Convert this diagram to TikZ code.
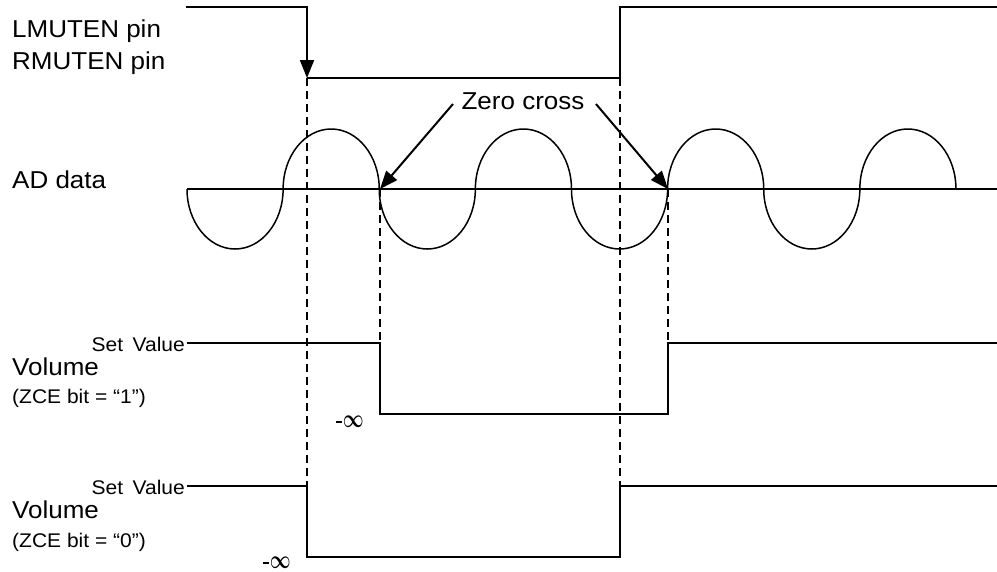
\documentclass[tikz,border=0pt]{standalone}
\usepackage{fontspec}
\setmainfont{Liberation Sans}
\usetikzlibrary{arrows.meta}
\newcommand{\vsq}[1]{\scalebox{1}[0.94]{#1}}
\newcommand{\minf}{\rule[5pt]{6pt}{2pt}\kern0.5pt\scalebox{1.05}[1.5]{\fontsize{18}{20}\selectfont$\boldsymbol{\infty}$}}
\usepackage{amsmath}
\begin{document}
\begin{tikzpicture}[x=1pt,y=-1pt,
  sig/.style={line width=2pt, line join=miter},
  wave/.style={line width=1.5pt},
  guide/.style={line width=1.8pt, dash pattern=on 8pt off 5pt},
  tip/.style={-{Triangle[length=18pt,width=14pt]}},
  lbl/.style={inner sep=0pt, font=\fontsize{26}{28}\selectfont},
  small/.style={inner sep=0pt, font=\fontsize{21}{23}\selectfont},
  tiny/.style={inner sep=0pt, font=\fontsize{19}{21}\selectfont},
]
\useasboundingbox (0,0) rectangle (997,571);
% mute pin signal
\coordinate (mS) at (186,7);
\coordinate (mF) at (307,78);
\coordinate (mR) at (620,78);
\coordinate (mE) at (997,7);
\draw[sig,tip] (mS) -| (mF);
\draw[sig] (mF) -- (mR) |- (mE);
% AD data
\coordinate (a0) at (187,189);
\coordinate (aE) at (997,189);
\draw[wave] (a0) -- (aE);
\draw[wave] (a0)
  arc[start angle=180,end angle=360,x radius=48.06pt,y radius=60pt]
  arc[start angle=180,end angle=0,x radius=48.06pt,y radius=60pt]
  arc[start angle=180,end angle=360,x radius=48.06pt,y radius=60pt]
  arc[start angle=180,end angle=0,x radius=48.06pt,y radius=60pt]
  arc[start angle=180,end angle=360,x radius=48.06pt,y radius=60pt]
  arc[start angle=180,end angle=0,x radius=48.06pt,y radius=60pt]
  arc[start angle=180,end angle=360,x radius=48.06pt,y radius=60pt]
  arc[start angle=180,end angle=0,x radius=48.06pt,y radius=60pt];
% zero crossings
\coordinate (z1) at (380,189);
\coordinate (z2) at (668,189);
% volume 1
\coordinate (v1s) at (187,343);
\coordinate (v1d) at (380,414);
\coordinate (v1u) at (668,343);
\coordinate (v1e) at (997,343);
\draw[sig] (v1s) -| (v1d) -| (v1u) -- (v1e);
% volume 2
\coordinate (v2s) at (187,486);
\coordinate (v2d) at (307,557);
\coordinate (v2u) at (620,486);
\coordinate (v2e) at (997,486);
\draw[sig] (v2s) -| (v2d) -| (v2u) -- (v2e);
% guides
\draw[guide] (mF) -- (307,486);
\draw[guide] (mR) -- (v2u);
\draw[guide] (z1) -- (380,343);
\draw[guide] (z2) -- (v1u);
% labels
\node[lbl, anchor=base west] (lm) at (12,37) {\vsq{LMUTEN pin}};
\node[lbl, anchor=base west] (rm) at (12,69) {\vsq{RMUTEN pin}};
\node[lbl, anchor=base west] (ad) at (12,188) {\vsq{AD data}};
\node[lbl, anchor=base] (zc) at (523,109) {\vsq{Zero cross}};
\coordinate (za) at (453,104);
\coordinate (zb) at (596,104);
\draw[line width=2pt, tip] (za) -- (z1);
\draw[line width=2pt, tip] (zb) -- (z2);
\node[small, anchor=base east] (sv1) at (185,351) {\vsq{Set\hspace{0.45em}Value}};
\node[lbl, anchor=base west] (vo1) at (12,375) {\vsq{Volume}};
\node[small, anchor=base west] (zc1) at (12,403) {\vsq{(ZCE bit = “1”)}};
\node[tiny] (mi1) at (350,422) {\minf};
\node[small, anchor=base east] (sv2) at (185,494) {\vsq{Set\hspace{0.45em}Value}};
\node[lbl, anchor=base west] (vo2) at (12,518) {\vsq{Volume}};
\node[small, anchor=base west] (zc2) at (12,547) {\vsq{(ZCE bit = “0”)}};
\node[tiny] (mi2) at (277,563) {\minf};
\end{tikzpicture}
\end{document}
